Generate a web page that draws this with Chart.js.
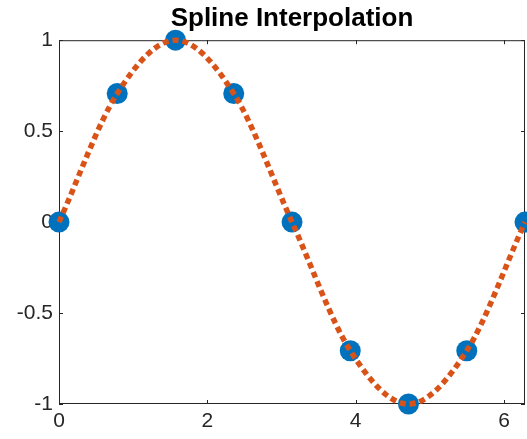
<!DOCTYPE html>
<html>
<head>
<meta charset="utf-8">
<script src="https://cdn.jsdelivr.net/npm/chart.js@4"></script>
<style>
  html, body { margin: 0; padding: 0; background: #fff; }
  #wrap { width: 527px; height: 439px; }
</style>
</head>
<body>
<div id="wrap"><canvas id="chart"></canvas></div>
<script>
// sample points of sin(x), 0..2pi in steps of pi/4
const xs = [0, 0.785, 1.571, 2.356, 3.142, 3.927, 4.712, 5.498, 6.283];
const ys = [0, 0.707, 1, 0.707, 0, -0.707, -1, -0.707, 0];
const xTicks = [0, 2, 4, 6];
const yTicks = [-1, -0.5, 0, 0.5, 1];

const points = xs.map((x, i) => ({ x: x, y: ys[i] }));
const axisColor = '#262626';
const tickFont = { family: 'Liberation Sans, Arial, sans-serif', size: 21 };

// box around the axes with small inward tick marks, drawn under the data
const boxAxes = {
    id: 'boxAxes',
    beforeDatasetsDraw(chart) {
        const { ctx, chartArea: a, scales } = chart;
        ctx.save();
        ctx.strokeStyle = axisColor;
        ctx.lineWidth = 1;
        ctx.strokeRect(a.left + 0.5, a.top + 0.5, a.right - a.left - 1, a.bottom - a.top - 1);
        ctx.beginPath();
        xTicks.forEach(v => {
            const px = Math.round(scales.x.getPixelForValue(v)) + 0.5;
            ctx.moveTo(px, a.bottom); ctx.lineTo(px, a.bottom - 4);
            ctx.moveTo(px, a.top); ctx.lineTo(px, a.top + 4);
        });
        yTicks.forEach(v => {
            const py = Math.round(scales.y.getPixelForValue(v)) + 0.5;
            ctx.moveTo(a.left, py); ctx.lineTo(a.left + 4, py);
            ctx.moveTo(a.right, py); ctx.lineTo(a.right - 4, py);
        });
        ctx.stroke();
        ctx.restore();
    }
};

new Chart(document.getElementById('chart'), {
    type: 'scatter',
    data: {
        datasets: [
            {
                label: 'spline',
                data: points,
                showLine: true,
                cubicInterpolationMode: 'monotone',
                borderColor: '#D95319',
                borderWidth: 5.5,
                borderDash: [6, 4],
                borderCapStyle: 'butt',
                pointRadius: 0,
                clip: false
            },
            {
                label: 'samples',
                data: points,
                showLine: false,
                pointRadius: 10.5,
                pointBackgroundColor: '#0072BD',
                pointBorderColor: '#0072BD',
                pointBorderWidth: 0,
                clip: false
            }
        ]
    },
    options: {
        responsive: true,
        maintainAspectRatio: false,
        animation: false,
        events: [],
        layout: { autoPadding: false, padding: { left: 0, right: 2, top: 0, bottom: 0 } },
        plugins: {
            legend: { display: false },
            tooltip: { enabled: false },
            title: {
                display: true,
                text: 'Spline Interpolation',
                fullSize: false,
                color: '#000',
                font: { family: 'Liberation Sans, Arial, sans-serif', size: 26, weight: 'bold' },
                padding: { top: 3, bottom: 6 }
            }
        },
        scales: {
            x: {
                type: 'linear',
                min: 0,
                max: 6.283,
                afterBuildTicks: s => { s.ticks = xTicks.map(v => ({ value: v })); },
                afterFit: s => { s.height = 35; },
                grid: { display: false, drawTicks: false },
                border: { display: false },
                ticks: {
                    color: axisColor,
                    padding: 5,
                    maxRotation: 0,
                    font: tickFont,
                    callback: v => String(v)
                }
            },
            y: {
                min: -1,
                max: 1,
                afterBuildTicks: s => { s.ticks = yTicks.map(v => ({ value: v })); },
                afterFit: s => { s.width = 59; },
                grid: { display: false, drawTicks: false },
                border: { display: false },
                ticks: {
                    color: axisColor,
                    padding: 6,
                    font: tickFont,
                    callback: v => String(v)
                }
            }
        }
    },
    plugins: [boxAxes]
});
</script>
</body>
</html>
